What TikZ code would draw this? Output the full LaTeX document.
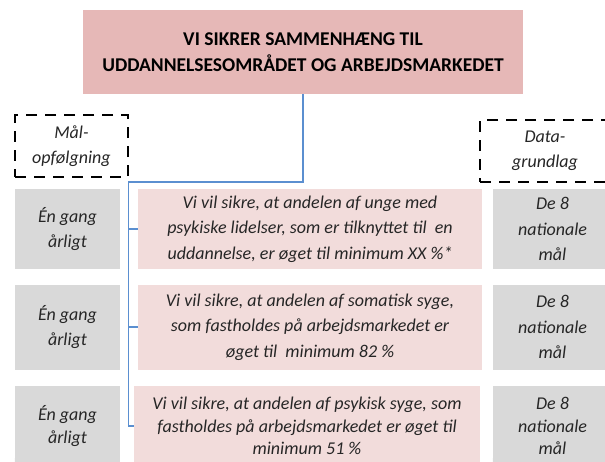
\documentclass[tikz,border=0pt]{standalone}
\usepackage{fontspec}
\setmainfont{Carlito}
\usetikzlibrary{positioning}

\definecolor{titlepink}{HTML}{E6B8B7}
\definecolor{rowpink}{HTML}{F2DCDB}
\definecolor{boxgray}{HTML}{D9D9D9}
\definecolor{linkblue}{HTML}{5B8FD0}
\definecolor{txtgray}{HTML}{262626}

\begin{document}
\begin{tikzpicture}[x=1pt, y=-1pt,
	titlebox/.style={fill=titlepink, align=center, inner sep=0pt,
		minimum width=440pt, minimum height=84pt,
		font=\fontsize{19.5}{26}\selectfont\bfseries},
	headbox/.style={draw, line width=2.5pt, dash pattern=on 11pt off 8pt,
		align=center, inner sep=0pt, text=txtgray,
		font=\fontsize{18}{25}\selectfont\itshape},
	goalbox/.style={fill=rowpink, align=center, inner sep=0pt, text=txtgray,
		minimum width=344pt, font=\fontsize{18}{25.5}\selectfont\itshape},
	graybox/.style={fill=boxgray, align=center, inner sep=0pt, text=txtgray,
		font=\fontsize{18}{25.5}\selectfont\itshape},
	lastrow/.style={font=\fontsize{18}{22.5}\selectfont\itshape},
	link/.style={draw=linkblue, line width=1.4pt}]

	\useasboundingbox (0,0) rectangle (605,461);

	% top
	\node[titlebox] (title) at (303,52) {VI SIKRER SAMMENHÆNG TIL\\UDDANNELSESOMRÅDET OG ARBEJDSMARKEDET};

	% column heads
	\node[headbox, minimum width=113pt, minimum height=62pt] (maal) at (71.5,146) {Mål-\\opfølgning};
	\node[headbox, minimum width=130pt, minimum height=62pt] (data) at (545,151) {Data-\\grundlag};

	% row 1
	\node[graybox, minimum width=105pt, minimum height=80pt] (freq1) at (67.5,229) {Én gang\\årligt};
	\node[goalbox, minimum height=80pt] (goal1) at (310,229) {Vi vil sikre, at andelen af unge med\\psykiske lidelser, som er tilknyttet til\ \ en\\uddannelse, er øget til minimum XX \%*};
	\node[graybox, minimum width=119pt, minimum height=80pt] (src1) at (552.5,229) {De 8\\nationale\\mål};

	% row 2
	\node[graybox, minimum width=105pt, minimum height=85pt] (freq2) at (67.5,327) {Én gang\\årligt};
	\node[goalbox, minimum height=85pt] (goal2) at (310,327) {Vi vil sikre, at andelen af somatisk syge,\\som fastholdes på arbejdsmarkedet er\\øget til\ \ minimum 82 \%};
	\node[graybox, minimum width=119pt, minimum height=85pt] (src2) at (552.5,327) {De 8\\nationale\\mål};

	% row 3
	\node[graybox, lastrow, minimum width=105pt, minimum height=80pt] (freq3) at (67.5,426) {Én gang\\årligt};
	\node[goalbox, lastrow, minimum width=346pt, minimum height=80pt] (goal3) at (307,426) {Vi vil sikre, at andelen af psykisk syge, som\\fastholdes på arbejdsmarkedet er øget til\\minimum 51 \%};
	\node[graybox, lastrow, minimum width=119pt, minimum height=80pt] (src3) at (552.5,426) {De 8\\nationale\\mål};
	\fill[boxgray] (freq3.south west) rectangle ++(105,-8) (src3.south west) rectangle ++(119,-8);
	\fill[rowpink] (goal3.south west) rectangle ++(346,-8);

	% connector
	\coordinate (turn) at (128.5,182); % left turn
	\coordinate (foot) at (128.5,426); % bottom of the stem

	\draw[link] (title.south) |- (turn) -- (foot) -- (goal3.west);
	\draw[link] (goal1.west) -- (goal1.west -| turn);
	\draw[link] (goal2.west) -- (goal2.west -| turn);
\end{tikzpicture}
\end{document}
